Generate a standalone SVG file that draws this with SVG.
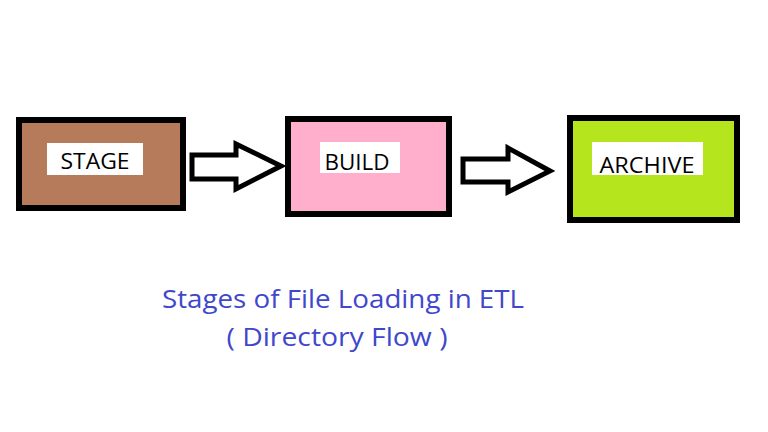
<svg xmlns="http://www.w3.org/2000/svg" width="768" height="432" viewBox="0 0 768 432">
<style>
.box{stroke:#000;stroke-width:6}
.lbl{fill:#fff}
.t{font-family:"Open Sans","Noto Sans",sans-serif;font-size:22px;fill:#000;text-anchor:middle}
.arrow{fill:#fff;stroke:#000;stroke-width:5;stroke-linejoin:miter}
.title{font-family:"Open Sans","Noto Sans",sans-serif;font-size:26px;fill:#3F48CC;text-anchor:middle}
</style>
<rect width="768" height="432" fill="#fff"/>
<g id="stage">
<rect class="box" x="19" y="120" width="164" height="88" fill="#B57B5B"/>
<rect class="lbl" x="47" y="143" width="96" height="32"/>
<text class="t" x="95" y="169" textLength="69" lengthAdjust="spacingAndGlyphs">STAGE</text>
</g>
<g id="build">
<rect class="box" x="288" y="119" width="161" height="95" fill="#FFAECB"/>
<rect class="lbl" x="320" y="142" width="80" height="31"/>
<text class="t" x="357" y="170" textLength="65" lengthAdjust="spacingAndGlyphs">BUILD</text>
</g>
<g id="archive">
<rect class="box" x="570" y="118" width="167" height="102" fill="#B5E61D"/>
<rect class="lbl" x="592" y="142" width="111" height="33"/>
<text class="t" x="647" y="173" textLength="95" lengthAdjust="spacingAndGlyphs">ARCHIVE</text>
</g>
<g id="connectors">
<polygon class="arrow" points="192,155 236,155 236,144 281,166 236,189 236,179 192,179"/>
<polygon class="arrow" points="463,159 508,159 508,148 550,171 508,192 508,182 463,182"/>
</g>
<g id="caption">
<text class="title" x="343" y="308" textLength="362" lengthAdjust="spacingAndGlyphs">Stages of File Loading in ETL</text>
<text class="title" x="337" y="346" textLength="221" lengthAdjust="spacingAndGlyphs">( Directory Flow )</text>
</g>
</svg>
